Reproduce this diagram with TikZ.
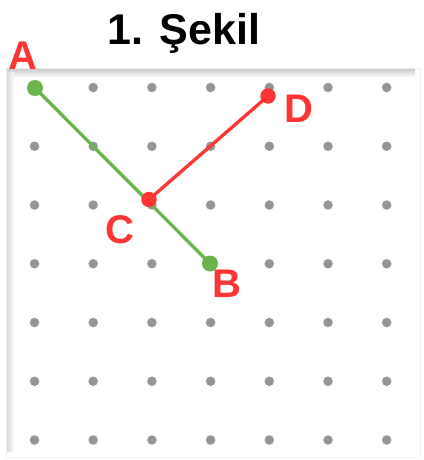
\documentclass[tikz,border=0pt]{standalone}
\usepackage{fontspec}
\setmainfont{Liberation Sans}
\definecolor{dotgray}{HTML}{939598}
\definecolor{mygreen}{HTML}{6AB44C}
\definecolor{myred}{HTML}{FF3535}
\begin{document}
\begin{tikzpicture}[x=1pt,y=-1pt,
  griddot/.style={circle,fill=dotgray,inner sep=0pt,minimum size=9.5pt},
  gpt/.style={circle,fill=mygreen,inner sep=0pt,minimum size=16pt},
  rpt/.style={circle,fill=myred,inner sep=0pt,minimum size=15.5pt},
  lbl/.style={text=myred,font=\fontsize{40}{40}\selectfont\bfseries,anchor=base,inner sep=0pt},
  gline/.style={draw=mygreen,line width=3.3pt},
  rline/.style={draw=myred,line width=3.3pt}]
\useasboundingbox (0,0) rectangle (423,460);
% frame
\draw[gray!12,line width=1pt] (6.5,68.5) rectangle (420,457.5);
\shade[top color=gray!40,bottom color=gray!8] (7,69) rectangle (415,76);
\shade[left color=gray!28,right color=gray!4] (7,72) rectangle (14,451);
% title
\node[font=\fontsize{43}{43}\selectfont\bfseries,anchor=base,inner sep=0pt] (title) at (184,45) {1. Şekil};
% grid
\foreach \i in {0,...,6}{
  \foreach \j in {0,...,6}{
    \node[griddot] (g\i\j) at ({34.5+58.7*\i},{87.5+58.75*\j}) {};
  }
}
% points
\coordinate (pA) at (35,88);
\coordinate (pB) at (210,263.5);
\coordinate (pC) at (149,199.5);
\coordinate (pD) at (268,96);
\draw[gline] (pA) -- (pB);
\draw[rline] (pC) -- (pD);
\node[gpt] (A) at (pA) {};
\node[gpt] (B) at (pB) {};
\node[rpt] (C) at (pC) {};
\node[rpt] (D) at (pD) {};
% labels
\node[lbl] (lA) at (23,69) {A};
\node[lbl] (lD) at (299,122) {D};
\node[lbl] (lC) at (120,243) {C};
\node[lbl] (lB) at (227,297) {B};
\end{tikzpicture}
\end{document}
